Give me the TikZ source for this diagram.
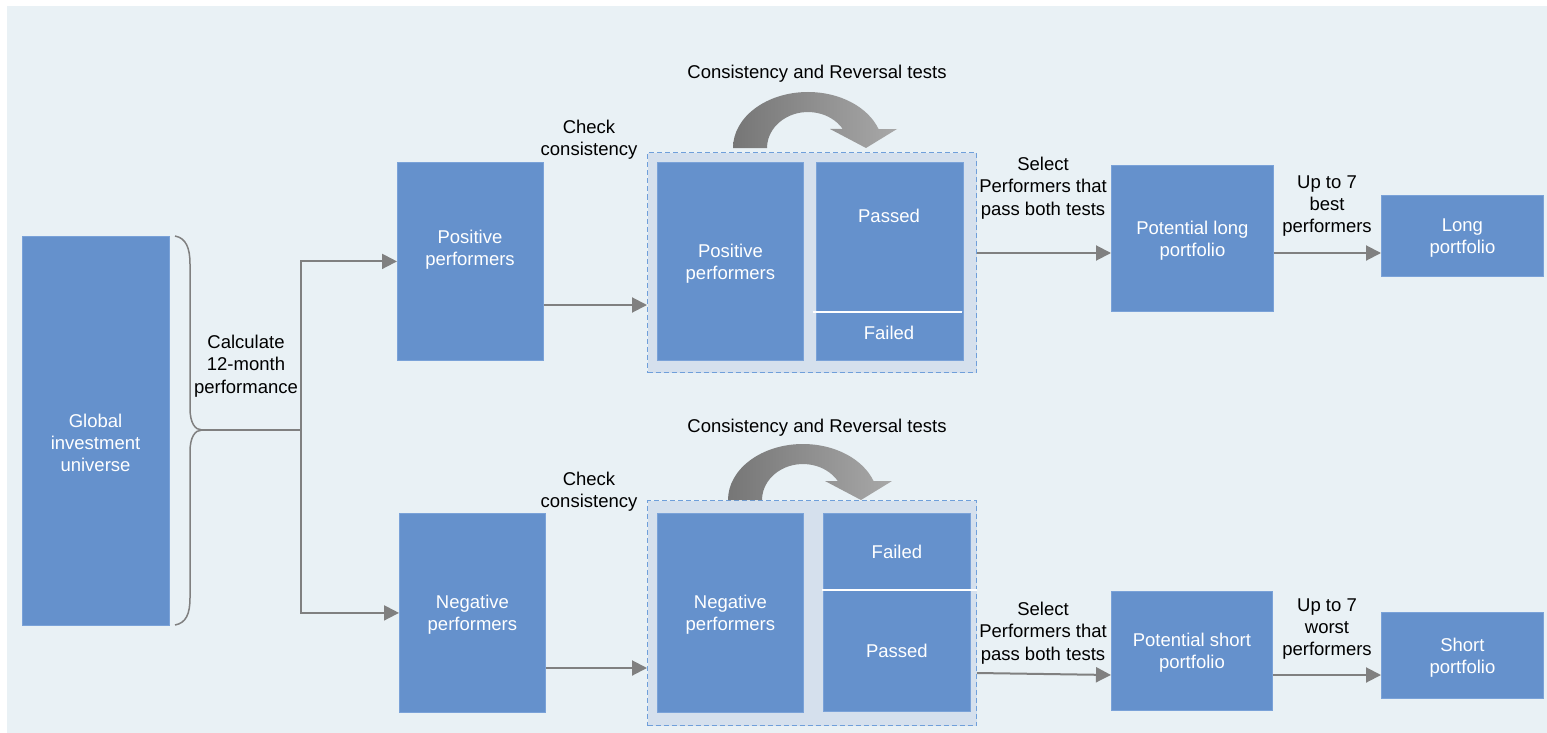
\documentclass[tikz,border=0pt]{standalone}
\usepackage{fontspec}
\setmainfont{Liberation Sans}
\usetikzlibrary{arrows.meta}
\definecolor{boxblue}{HTML}{6591CC}
\definecolor{boxedge}{HTML}{7AA2D8}
\definecolor{contfill}{HTML}{D5E0ED}
\definecolor{bgc}{HTML}{E9F1F5}
\definecolor{dashblue}{HTML}{6F9FDA}
\definecolor{conngray}{HTML}{808080}
\definecolor{arrdark}{HTML}{767676}
\definecolor{arrlight}{HTML}{A8A8A8}
\begin{document}
\begin{tikzpicture}[x=1pt,y=-1pt,
  every node/.style={font=\fontsize{18.5pt}{22.3pt}\selectfont, align=center, inner sep=0pt},
  box/.style={fill=boxblue, draw=boxedge, line width=0.8pt, anchor=north west, text=white},
  wt/.style={text=white},
  ml/.style={yshift=-2pt},
  conn/.style={draw=conngray, line width=2pt, -{Triangle[length=15pt,width=15pt]}},
  plain/.style={draw=conngray, line width=2pt},
  cont/.style={fill=contfill, draw=dashblue, line width=1pt, dash pattern=on 5pt off 3pt, anchor=north west},
  curvarr/.style={left color=arrdark, right color=arrlight}
]
\useasboundingbox (0,0) rectangle (1547,733);
\fill[bgc] (7,6) rectangle (1547,733);

% left column
\node[box, minimum width=147pt, minimum height=389pt] (g) at (22,236) {};
\node[wt] (gt) at (95.5,443) {Global\\investment\\universe};

\node[box, minimum width=146pt, minimum height=198pt] (pos) at (397,162) {};
\node[wt, ml] (post) at (470,248) {Positive\\performers};
\node[box, minimum width=146pt, minimum height=199pt] (neg) at (399,513) {};
\node[wt, ml] (negt) at (neg) {Negative\\performers};

% top container
\node[cont, minimum width=329pt, minimum height=220pt] (c1) at (647,152) {};
\node[box, minimum width=146pt, minimum height=198pt] (ip) at (657,162) {};
\node[wt, ml] (ipt) at (ip) {Positive\\performers};
\node[box, minimum width=147pt, minimum height=149pt] (pa1) at (816,162) {};
\node[wt] (pa1t) at (889,216) {Passed};
\node[box, minimum width=147pt, minimum height=49pt] (fa1) at (816,311) {};
\node[wt] (fa1t) at (889,333) {Failed};
\draw[white, line width=2pt] ([xshift=-3pt]pa1.south west) -- ([xshift=-2pt]pa1.south east);

% bottom container
\node[cont, minimum width=329pt, minimum height=225pt] (c2) at (647,500) {};
\node[box, minimum width=146pt, minimum height=199pt] (in) at (657,513) {};
\node[wt, ml] (int) at (in) {Negative\\performers};
\node[box, minimum width=147pt, minimum height=76pt] (fa2) at (823,513) {Failed};
\node[box, minimum width=147pt, minimum height=122pt] (pa2) at (823,589) {Passed};
\draw[white, line width=2pt] ([xshift=-1pt]fa2.south west) -- (c2.east |- fa2.south);

% right column
\node[box, minimum width=162pt, minimum height=146pt] (pl) at (1111,165) {};
\node[wt, ml] (plt) at (pl) {Potential long\\portfolio};
\node[box, minimum width=162pt, minimum height=81pt] (lp) at (1381,195) {};
\node[wt, ml] (lpt) at (lp) {Long\\portfolio};
\node[box, minimum width=161pt, minimum height=119pt] (ps) at (1111,591) {};
\node[wt, ml] (pst) at (ps) {Potential short\\portfolio};
\node[box, minimum width=162pt, minimum height=86pt] (sp) at (1381,612) {};
\node[wt, ml] (spt) at (sp) {Short\\portfolio};

% brace
\coordinate (tip) at (202,430);
\coordinate (split) at (301,430);
\draw[conngray, line width=1.5pt] (175,236) .. controls (186,238) and (190,248) .. (190,264)
  -- (190,408) .. controls (190,423) and (195,430) .. (tip)
  .. controls (195,430) and (190,437) .. (190,452)
  -- (190,598) .. controls (190,614) and (186,623) .. (175,625);

% connectors
\draw[plain] (tip) -- (split);
\draw[conn] (split) |- (pos.west);
\draw[conn] (split) |- (neg.west);
\draw[conn] (pos.east |- 0,305) -- (c1.west |- 0,305);
\draw[conn] (neg.east |- 0,668) -- (c2.west |- 0,668);
\draw[conn] (c1.east |- 0,253) -- (pl.west |- 0,253);
\draw[conn] (pl.east |- 0,253) -- (lp.west |- 0,253);
\draw[conn] (c2.east |- 0,673) -- (ps.west |- 0,675);
\draw[conn] (ps.east |- 0,675) -- (sp.west |- 0,675);

% curved arrows
\shade[curvarr] (733,148) arc[start angle=180, end angle=19.8, x radius=75pt, y radius=56pt]
  -- (897,129) -- (866,148) -- (830,129) -- (842.8,129)
  arc[start angle=31.9, end angle=180, x radius=41pt, y radius=36pt] -- cycle;
\begin{scope}[shift={(-5,352)}]
\shade[curvarr] (733,148) arc[start angle=180, end angle=19.8, x radius=75pt, y radius=56pt]
  -- (897,129) -- (866,148) -- (830,129) -- (842.8,129)
  arc[start angle=31.9, end angle=180, x radius=41pt, y radius=36pt] -- cycle;
\end{scope}

% labels
\node[ml] (calc) at (246,364) {Calculate\\12-month\\performance};
\node[ml] (chk1) at (589,138) {Check\\consistency};
\node[ml] (chk2) at (589,490) {Check\\consistency};
\node (crt1) at (817,74) {Consistency and Reversal tests};
\node (crt2) at (817,428) {Consistency and Reversal tests};
\node[ml] (sel1) at (1043,186) {Select\\Performers that\\pass both tests};
\node[ml] (sel2) at (1043,631) {Select\\Performers that\\pass both tests};
\node[ml] (up1) at (1327,204) {Up to 7\\best\\performers};
\node[ml] (up2) at (1327,627) {Up to 7\\worst\\performers};
\end{tikzpicture}
\end{document}
